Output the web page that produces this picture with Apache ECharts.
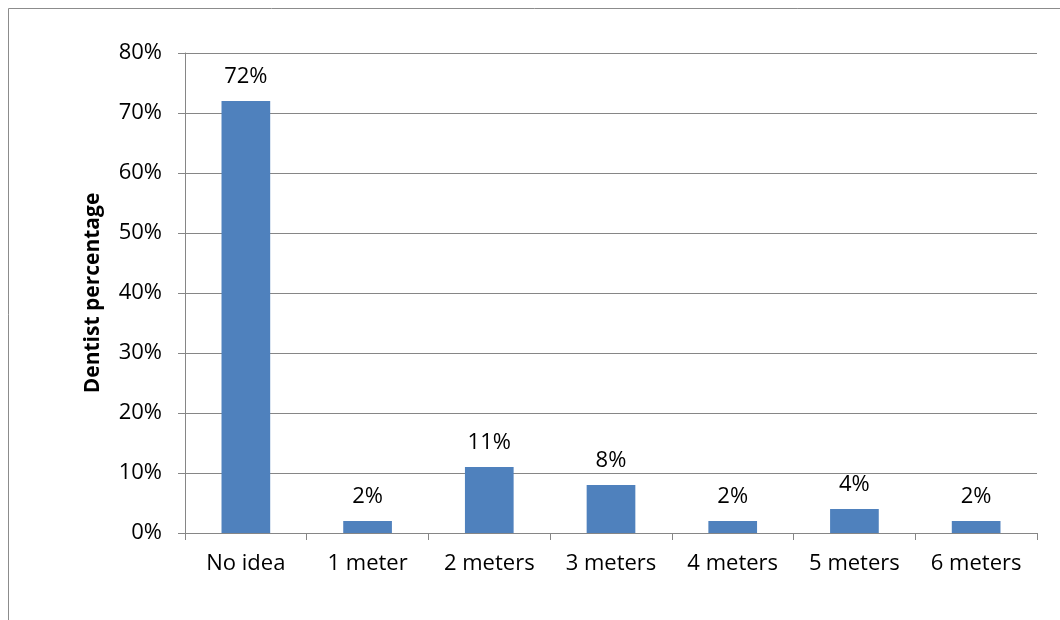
<!DOCTYPE html>
<html>
<head>
<meta charset="utf-8">
<script src="https://cdn.jsdelivr.net/npm/echarts@6/dist/echarts.min.js"></script>
<style>
  html, body { margin: 0; padding: 0; background: #fff; }
  #chart { width: 1060px; height: 620px; }
</style>
</head>
<body>
<div id="chart"></div>
<script>
// Distance categories and share of dentists choosing each
const categories = ['No idea', '1 meter', '2 meters', '3 meters', '4 meters', '5 meters', '6 meters'];
const percentages = [72, 2, 11, 8, 2, 4, 2];
const yTicks = { min: 0, max: 80, interval: 10 };

const FONT = '"Open Sans", Lato, sans-serif';
const chart = echarts.init(document.getElementById('chart'));

chart.setOption({
  animation: false,
  graphic: [{
    type: 'rect',
    shape: { x: 8.5, y: 8.5, width: 1200, height: 800 },
    style: { fill: 'none', stroke: '#8c8c8c', lineWidth: 1 },
    silent: true
  }],
  grid: { left: 185, right: 23, top: 53, bottom: 87 },
  xAxis: {
    type: 'category',
    data: categories,
    axisLine: { lineStyle: { color: '#868686', width: 1 } },
    axisTick: { show: true, length: 7, alignWithLabel: false, lineStyle: { color: '#868686' } },
    axisLabel: { color: '#000', fontFamily: FONT, fontSize: 22, margin: 20 }
  },
  yAxis: {
    type: 'value',
    min: yTicks.min, max: yTicks.max, interval: yTicks.interval,
    name: 'Dentist percentage',
    nameLocation: 'middle',
    nameGap: 81,
    nameTextStyle: { color: '#000', fontFamily: FONT, fontSize: 21, fontWeight: 'bold' },
    axisLine: { show: true, lineStyle: { color: '#868686', width: 1 } },
    axisTick: { show: true, length: 7, lineStyle: { color: '#868686' } },
    splitLine: { lineStyle: { color: '#868686', width: 1 } },
    axisLabel: { color: '#000', fontFamily: FONT, fontSize: 22, margin: 23, formatter: '{value}%' }
  },
  series: [{
    type: 'bar',
    data: percentages,
    barWidth: '40%',
    itemStyle: { color: '#4F81BD' },
    label: {
      show: true,
      position: 'top',
      distance: 13,
      color: '#000',
      fontFamily: FONT,
      fontSize: 22,
      formatter: '{c}%'
    }
  }]
});
</script>
</body>
</html>
